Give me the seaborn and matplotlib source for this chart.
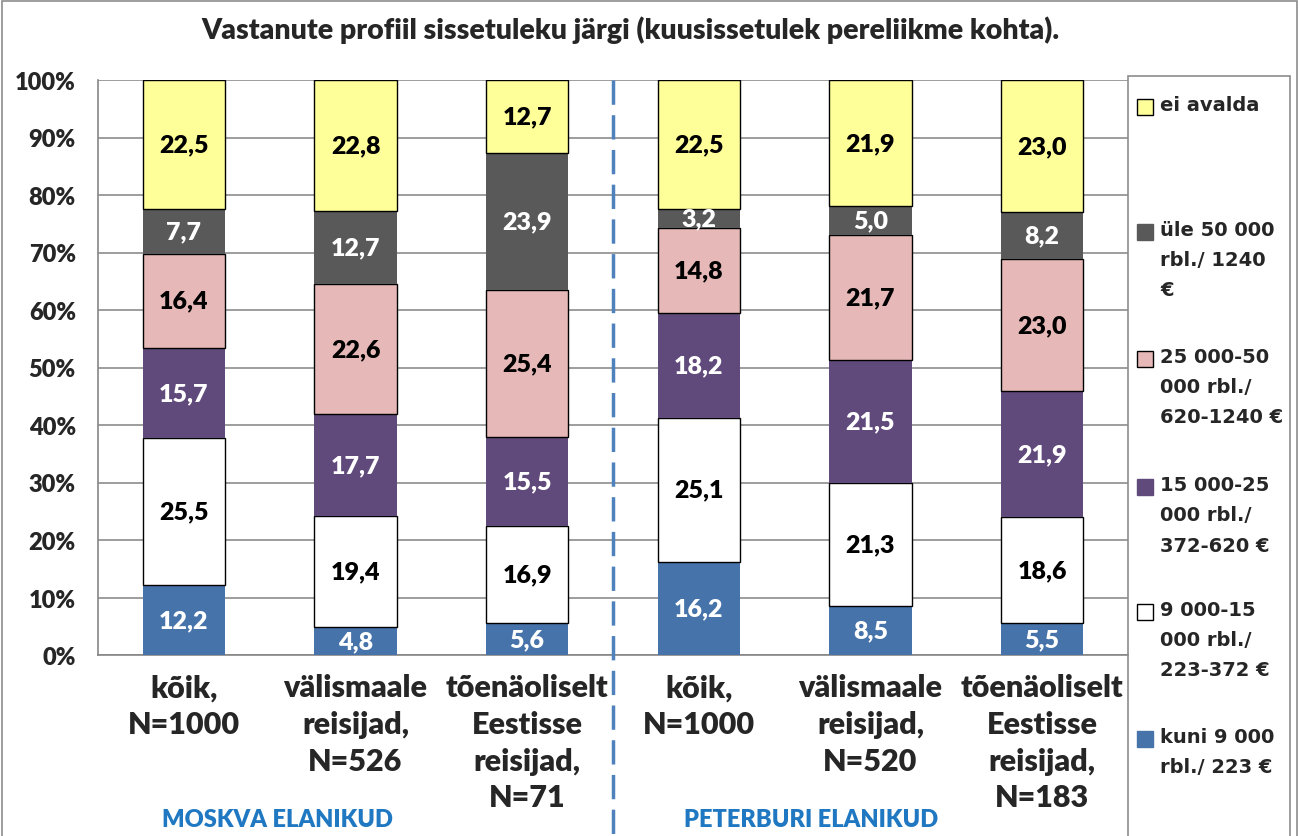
import numpy as np
import pandas as pd
import matplotlib
matplotlib.use("Agg")
import matplotlib.pyplot as plt
import matplotlib.transforms as mtransforms
from matplotlib.patches import Rectangle
import seaborn as sns

# ---------- data ----------
bar_keys = ["m_all", "m_abroad", "m_est", "p_all", "p_abroad", "p_est"]
bar_labels = [
    "kõik,\nN=1000",
    "välismaale\nreisijad,\nN=526",
    "tõenäoliselt\nEestisse\nreisijad,\nN=71",
    "kõik,\nN=1000",
    "välismaale\nreisijad,\nN=520",
    "tõenäoliselt\nEestisse\nreisijad,\nN=183",
]
group_labels = ["MOSKVA ELANIKUD", "PETERBURI ELANIKUD"]

series_names = [
    "kuni 9 000\nrbl./ 223 €",
    "9 000-15\n000 rbl./\n223-372 €",
    "15 000-25\n000 rbl./\n372-620 €",
    "25 000-50\n000 rbl./\n620-1240 €",
    "üle 50 000\nrbl./ 1240\n€",
    "ei avalda",
]
kuni_9000 = [12.2, 4.8, 5.6, 16.2, 8.5, 5.5]
r9000_15000 = [25.5, 19.4, 16.9, 25.1, 21.3, 18.6]
r15000_25000 = [15.7, 17.7, 15.5, 18.2, 21.5, 21.9]
r25000_50000 = [16.4, 22.6, 25.4, 14.8, 21.7, 23.0]
yle_50000 = [7.7, 12.7, 23.9, 3.2, 5.0, 8.2]
ei_avalda = [22.5, 22.8, 12.7, 22.5, 21.9, 23.0]
series_values = [kuni_9000, r9000_15000, r15000_25000, r25000_50000, yle_50000, ei_avalda]

# ---------- styles ----------
fills = ["#4673A9", "#FFFFFF", "#604A7B", "#E6B9B8", "#595959", "#FFFF99"]
edges = ["none", "black", "none", "black", "none", "black"]
text_colors = ["white", "black", "white", "black", "white", "black"]

FONT = "Lato"
BOLD = "heavy"
sns.set_style("white")
plt.rcParams["font.family"] = [FONT, "DejaVu Sans"]

W, H = 1299, 837
fig = plt.figure(figsize=(W / 100, H / 100), dpi=100)
ax = fig.add_axes([98 / W, 1 - 656 / H, (1128 - 98) / W, (656 - 81) / H])

raw = np.array(series_values, dtype=float)
pct = raw / raw.sum(axis=0) * 100
bottoms = np.vstack([np.zeros(raw.shape[1]), np.cumsum(pct, axis=0)[:-1]])

for i, name in enumerate(series_names):
    df = pd.DataFrame({"bar": bar_keys, "value": pct[i]})
    sns.barplot(
        data=df, x="bar", y="value", order=bar_keys, ax=ax,
        bottom=bottoms[i], color=fills[i], saturation=1, width=0.48,
        edgecolor=edges[i], linewidth=1.0 if edges[i] != "none" else 0,
        errorbar=None, zorder=3,
    )
    for j in range(len(bar_keys)):
        ax.text(j, bottoms[i][j] + pct[i][j] / 2, f"{raw[i][j]:.1f}".replace(".", ","),
                ha="center", va="center", fontsize=18, fontweight=BOLD,
                color=text_colors[i], zorder=5)

# ---------- axes ----------
ax.set_xlim(-0.5, len(bar_keys) - 0.5)
ax.set_ylim(0, 100)
ax.set_yticks(np.arange(0, 101, 10))
ax.set_yticklabels([f"{v}%" for v in range(0, 101, 10)], fontsize=17, fontweight=BOLD)
ax.set_xticks(range(len(bar_keys)))
ax.set_xticklabels(bar_labels, fontsize=22, fontweight=BOLD, linespacing=1.38, va="top")
ax.set_xticks(np.arange(-0.5, len(bar_keys), 1), minor=True)
ax.tick_params(axis="x", which="major", length=0, pad=13)
ax.tick_params(axis="x", which="minor", length=9, color="#868686", width=1.2, direction="out")
ax.tick_params(axis="y", length=9, color="#868686", width=1.2, direction="out", pad=7)
ax.set_xlabel("")
ax.set_ylabel("")
ax.grid(axis="y", color="#8C8C8C", linewidth=1.2, zorder=0)
ax.set_axisbelow(True)
for s in ["top", "right"]:
    ax.spines[s].set_visible(False)
for s in ["left", "bottom"]:
    ax.spines[s].set_color("#868686")
    ax.spines[s].set_linewidth(1.2)

# dashed separator between the cities
trans = mtransforms.blended_transform_factory(ax.transData, ax.transAxes)
ax.plot([2.5, 2.5], [1.0, -181 / 575], transform=trans, color="#4F81BD",
        linewidth=2.5, linestyle=(0, (7, 3)), clip_on=False, zorder=6)

# title and group labels
fig.text(0.485, 1 - 30 / H, "Vastanute profiil sissetuleku järgi (kuusissetulek pereliikme kohta).",
         ha="center", va="center", fontsize=20.5, fontweight=BOLD)
fig.text(277 / W, 1 - 820 / H, group_labels[0], ha="center", va="center",
         fontsize=17, fontweight=BOLD, color="#1F78C1")
fig.text(811 / W, 1 - 820 / H, group_labels[1], ha="center", va="center",
         fontsize=17, fontweight=BOLD, color="#1F78C1")

# outer chart border and legend box
fig.patches.append(Rectangle((2 / W, -0.01), (1297 - 2) / W, 1.0 - 2 / H + 0.01,
                             transform=fig.transFigure, fill=False, edgecolor="#8C8C8C", linewidth=1.2))
fig.patches.append(Rectangle((1128 / W, -0.01), (1290 - 1128) / W, 1 - 77 / H + 0.01,
                             transform=fig.transFigure, fill=False, edgecolor="#8C8C8C", linewidth=1.2))

# legend entries, top to bottom
legend_y = [108, 233, 360, 488, 613, 740]
for k, y in zip(range(len(series_names) - 1, -1, -1), legend_y):
    fig.patches.append(Rectangle((1137 / W, 1 - (y + 8) / H), 16 / W, 16 / H,
                                 transform=fig.transFigure, facecolor=fills[k],
                                 edgecolor="black" if edges[k] != "none" else fills[k], linewidth=1))
    fig.text(1160 / W, 1 - (y - 12) / H, series_names[k], ha="left", va="top",
             fontsize=14, fontweight="bold", family="DejaVu Sans", linespacing=1.75)

fig.savefig("out.png", dpi=100)
